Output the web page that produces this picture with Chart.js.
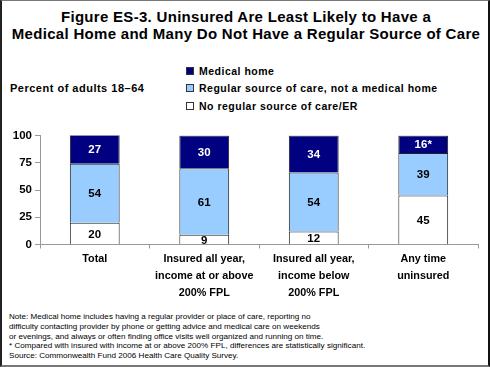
<!DOCTYPE html>
<html>
<head>
<meta charset="utf-8">
<script src="https://cdn.jsdelivr.net/npm/chart.js@4/dist/chart.umd.min.js"></script>
<style>
  html, body { margin: 0; padding: 0; background: #fff; }
  #frame {
    position: relative; width: 490px; height: 367px; box-sizing: border-box;
    border-top: 1px solid #777; border-bottom: 2px solid #777;
    border-left: 2px solid #222; border-right: 2px solid #111;
    overflow: hidden; font-family: "Liberation Sans", Arial, sans-serif;
  }
  #title {
    position: absolute; left: 0; top: 7px; width: 488px; text-align: center;
    font-weight: bold; font-size: 15px; line-height: 17px; letter-spacing: 0.3px; color: #000;
  }
  #ylabel {
    position: absolute; left: 8px; top: 81px; font-weight: bold; font-size: 11px; letter-spacing: 0.5px; color: #000;
  }
  #legend { position: absolute; left: 184px; top: 61px; }
  .item { height: 17.5px; display: flex; align-items: center; font-weight: bold; font-size: 10.5px; letter-spacing: 0.5px; }
  .sw { width: 6px; height: 6px; border: 1px solid #333; margin-right: 5px; }
  #note {
    position: absolute; left: 7px; top: 311px; font-size: 8.1px; line-height: 9.8px; color: #000;
  }
  #wrap { position: absolute; left: -2px; top: 123px; width: 490px; height: 181px; }
</style>
</head>
<body>
<div id="frame">
  <div id="title">Figure ES-3. Uninsured Are Least Likely to Have a<br>Medical Home and Many Do Not Have a Regular Source of Care</div>
  <div id="ylabel">Percent of adults 18&#8211;64</div>
  <div id="legend"></div>
  <div id="wrap"><canvas id="chart"></canvas></div>
  <div id="note">Note: Medical home includes having a regular provider or place of care, reporting no<br>difficulty contacting provider by phone or getting advice and medical care on weekends<br>or evenings, and always or often finding office visits well organized and running on time.<br>* Compared with insured with income at or above 200% FPL, differences are statistically significant.<br>Source: Commonwealth Fund 2006 Health Care Quality Survey.</div>
</div>
<script>
// categories (multi-line labels)
var categories = [
  ['Total'],
  ['Insured all year,', 'income at or above', '200% FPL'],
  ['Insured all year,', 'income below', '200% FPL'],
  ['Any time', 'uninsured']
];

// series, bottom to top
var noRegular = [20, 9, 12, 45];
var regularNotHome = [54, 61, 54, 39];
var medicalHome = [27, 30, 34, 16];
var medicalHomeMarks = ['', '', '', '*'];

var yTicks = [0, 25, 50, 75, 100];

var seriesNames = ['No regular source of care/ER', 'Regular source of care, not a medical home', 'Medical home'];
var seriesColors = ['#ffffff', '#99ccff', '#000080'];
var labelColors = ['#000', '#000', '#fff'];

// html legend, top item = top of stack
var legendEl = document.getElementById('legend');
for (var i = seriesNames.length - 1; i >= 0; i--) {
  var row = document.createElement('div');
  row.className = 'item';
  row.innerHTML = '<span class="sw" style="background:' + seriesColors[i] + '"></span>' + seriesNames[i];
  legendEl.appendChild(row);
}

// value labels in the middle of each segment
var valueLabels = {
  id: 'valueLabels',
  afterDatasetsDraw: function (chart) {
    var ctx = chart.ctx;
    ctx.save();
    ctx.font = 'bold 11.5px "Liberation Sans", Arial, sans-serif';
    ctx.textAlign = 'center';
    ctx.textBaseline = 'middle';
    chart.data.datasets.forEach(function (ds, di) {
      chart.getDatasetMeta(di).data.forEach(function (bar, j) {
        var mid = (bar.y + bar.base) / 2;
        ctx.fillStyle = labelColors[di];
        ctx.fillText(ds.data[j] + (ds.marks ? ds.marks[j] : ''), bar.x, mid + 1);
      });
    });
    ctx.restore();
  }
};

var tickFont = { family: '"Liberation Sans", Arial, sans-serif', weight: 'bold', size: 11.5 };

new Chart(document.getElementById('chart'), {
  type: 'bar',
  data: {
    labels: categories,
    datasets: [
      { label: seriesNames[0], data: noRegular, backgroundColor: seriesColors[0] },
      { label: seriesNames[1], data: regularNotHome, backgroundColor: seriesColors[1] },
      { label: seriesNames[2], data: medicalHome, backgroundColor: seriesColors[2], marks: medicalHomeMarks }
    ]
  },
  options: {
    responsive: true,
    maintainAspectRatio: false,
    animation: false,
    datasets: {
      bar: { borderColor: '#222', borderWidth: 1, barPercentage: 0.455, categoryPercentage: 1 }
    },
    layout: { padding: { top: 11.5, right: 12, left: 0, bottom: 0 } },
    plugins: {
      legend: { display: false },
      tooltip: { enabled: false }
    },
    scales: {
      x: {
        stacked: true,
        grid: { display: true, drawOnChartArea: false, offset: true, tickLength: 4, color: '#999' },
        border: { color: '#999' },
        ticks: { color: '#000', font: { family: tickFont.family, weight: 'bold', size: 10.8, lineHeight: 1.58 }, padding: 2, maxRotation: 0, autoSkip: false },
        afterFit: function (s) { s.height = 60.5; }
      },
      y: {
        stacked: true,
        min: 0,
        max: 100,
        afterBuildTicks: function (s) { s.ticks = yTicks.map(function (v) { return { value: v }; }); },
        grid: { display: true, drawOnChartArea: false, tickLength: 5, color: '#999' },
        border: { color: '#999' },
        ticks: { color: '#000', font: tickFont, padding: 3 },
        afterFit: function (s) { s.width = 40; }
      }
    }
  },
  plugins: [valueLabels]
});
</script>
</body>
</html>
